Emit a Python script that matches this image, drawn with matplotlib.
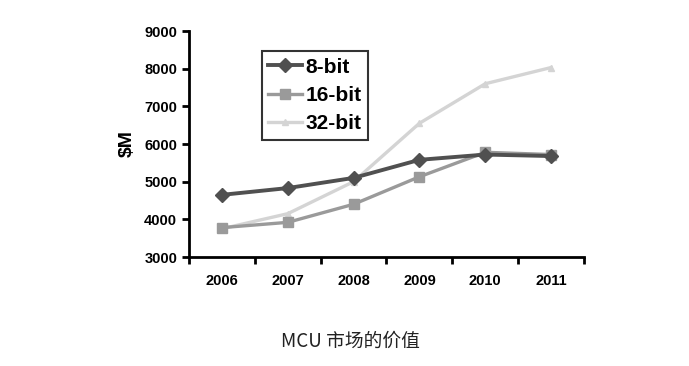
import numpy as np
import matplotlib.pyplot as plt

years = ["2006", "2007", "2008", "2009", "2010", "2011"]
bit8 = [4650, 4830, 5100, 5580, 5720, 5680]
bit16 = [3780, 3920, 4400, 5130, 5780, 5720]
bit32 = [3750, 4150, 5000, 6550, 7600, 8030]

plt.rcParams['font.family'] = ['Liberation Sans', 'DejaVu Sans']

fig = plt.figure(figsize=(6.89, 3.66), dpi=100)
ax = fig.add_axes([0.2743, 0.2978, 0.5733, 0.6175])

x = np.arange(len(years))
ax.plot(x, bit32, color='#d4d4d4', lw=2.4, marker='^', ms=4, label='32-bit', zorder=1)
ax.plot(x, bit16, color='#9a9a9a', lw=2.4, marker='s', ms=7, label='16-bit', zorder=2)
ax.plot(x, bit8, color='#505050', lw=2.8, marker='D', ms=7, label='8-bit', zorder=3)

ax.set_xlim(-0.5, len(years) - 0.5)
ax.set_ylim(3000, 9000)
ax.set_yticks(range(3000, 9001, 1000))
ax.set_xticks(x)
ax.set_xticklabels(years)
ax.set_xticks(np.arange(-0.5, len(years)), minor=True)
ax.tick_params(axis='x', which='major', length=0, pad=12)
ax.tick_params(axis='x', which='minor', length=5, width=2, direction='out')
ax.tick_params(axis='y', length=5, width=2, direction='out')
for lbl in ax.get_xticklabels() + ax.get_yticklabels():
    lbl.set_fontweight('bold')
    lbl.set_fontsize(10.5)

for s in ['top', 'right']:
    ax.spines[s].set_visible(False)
for s in ['left', 'bottom']:
    ax.spines[s].set_linewidth(2)

ax.set_ylabel('$M', fontsize=14, fontweight='bold', labelpad=6)

handles, labels = ax.get_legend_handles_labels()
order = [2, 1, 0]
leg = ax.legend([handles[i] for i in order], [labels[i] for i in order],
                loc='upper left', bbox_to_anchor=(0.185, 0.91),
                prop={'weight': 'bold', 'size': 15}, frameon=True, fancybox=False,
                handlelength=1.6, handletextpad=0.2, borderpad=0.3, labelspacing=0.45,
                borderaxespad=0)
leg.get_frame().set_edgecolor('black')
leg.get_frame().set_linewidth(1.5)

fig.text(0.508, 0.067, 'MCU 市场的价值', ha='center', va='center', fontsize=13.5,
         family=['Noto Sans CJK SC', 'DejaVu Sans'], color='#222222')

fig.savefig('out.png', dpi=100)
